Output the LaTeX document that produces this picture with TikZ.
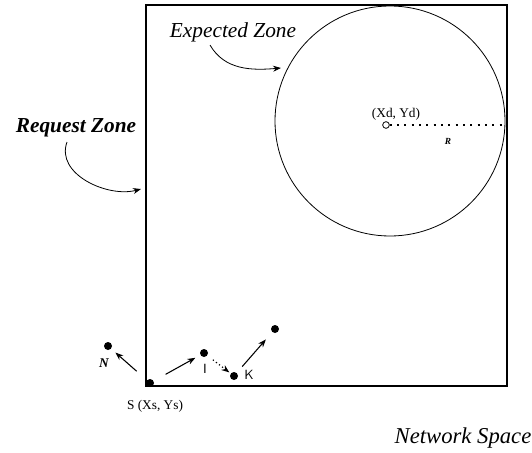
\documentclass[tikz,border=0pt]{standalone}
\usepackage{fontspec}
\setmainfont{Liberation Serif}
\usetikzlibrary{arrows.meta}
\tikzset{
  dot/.style={circle, fill, inner sep=0pt, minimum size=6pt},
  lbl/.style={inner sep=1pt, font=\normalsize},
  zonelbl/.style={inner sep=1pt, font=\fontsize{16}{19}\selectfont\itshape},
}
\begin{document}
\begin{tikzpicture}[x=0.75pt, y=-0.75pt, >={Stealth[length=6pt]}, thick]
            \useasboundingbox (0,0) rectangle (532,453);

            % Network space
            \draw[line width=1.6pt] (146,5) rectangle (507,386);

            % Expected zone
            \draw[line width=0.6pt] (390,121) circle (115);
            \node[circle, draw, inner sep=0pt, minimum size=5pt, line width=0.6pt] (D) at (386,125) {};
            \coordinate (Dr) at (506,125);
            \draw[line width=1pt, dash pattern=on 1.5pt off 4pt] (D) -- (Dr) node[pos=0.5, below=6pt, font=\scriptsize\itshape\bfseries] (Rl) {R};
            \node[lbl] (Dl) at (396,114) {(Xd, Yd)};

            % Zone labels
            \node[zonelbl] (ez) at (233,32) {Expected Zone};
            \coordinate (ea) at (281,68);
            \draw[->, line width=0.6pt] (210,45) to[out=-60, in=185] (ea);

            \node[zonelbl, font=\fontsize{16}{19}\selectfont\bfseries\itshape] (rz) at (76,128) {Request Zone};
            \coordinate (ra) at (141,189);
            \draw[->, line width=0.6pt] (67,142) to[out=-110, in=195] (ra);

            % Nodes of the route
            \node[dot] (S) at (150,383) {};
            \node[dot] (N) at (108,346) {};
            \node[dot] (I) at (204,353) {};
            \node[dot] (K) at (234,376) {};
            \node[dot] (T) at (275,329) {};

            \node[lbl] (Sl) at (155,406) {S (Xs, Ys)};
            \node[lbl, font=\normalsize\itshape\bfseries] (Nl) at (104,363) {N};
            \node[lbl, font=\normalsize\sffamily] (Il) at (205,369) {I};
            \node[lbl, font=\normalsize\sffamily] (Kl) at (249,375) {K};

            % Requests
            \draw[->, line width=0.8pt, shorten <=10pt, shorten >=4pt] (S) -- (N);
            \draw[->, line width=0.8pt, shorten <=10pt, shorten >=4pt] (S) -- (I);
            \draw[->, dotted, line width=0.9pt, shorten <=5pt, shorten >=1pt] (I) -- (K);
            \draw[->, line width=0.8pt, shorten <=6pt, shorten >=7pt] (K) -- (T);

            % Network space label
            \node[zonelbl, font=\fontsize{17}{20}\selectfont\itshape] (ns) at (463,438) {Network Space};
\end{tikzpicture}
\end{document}
